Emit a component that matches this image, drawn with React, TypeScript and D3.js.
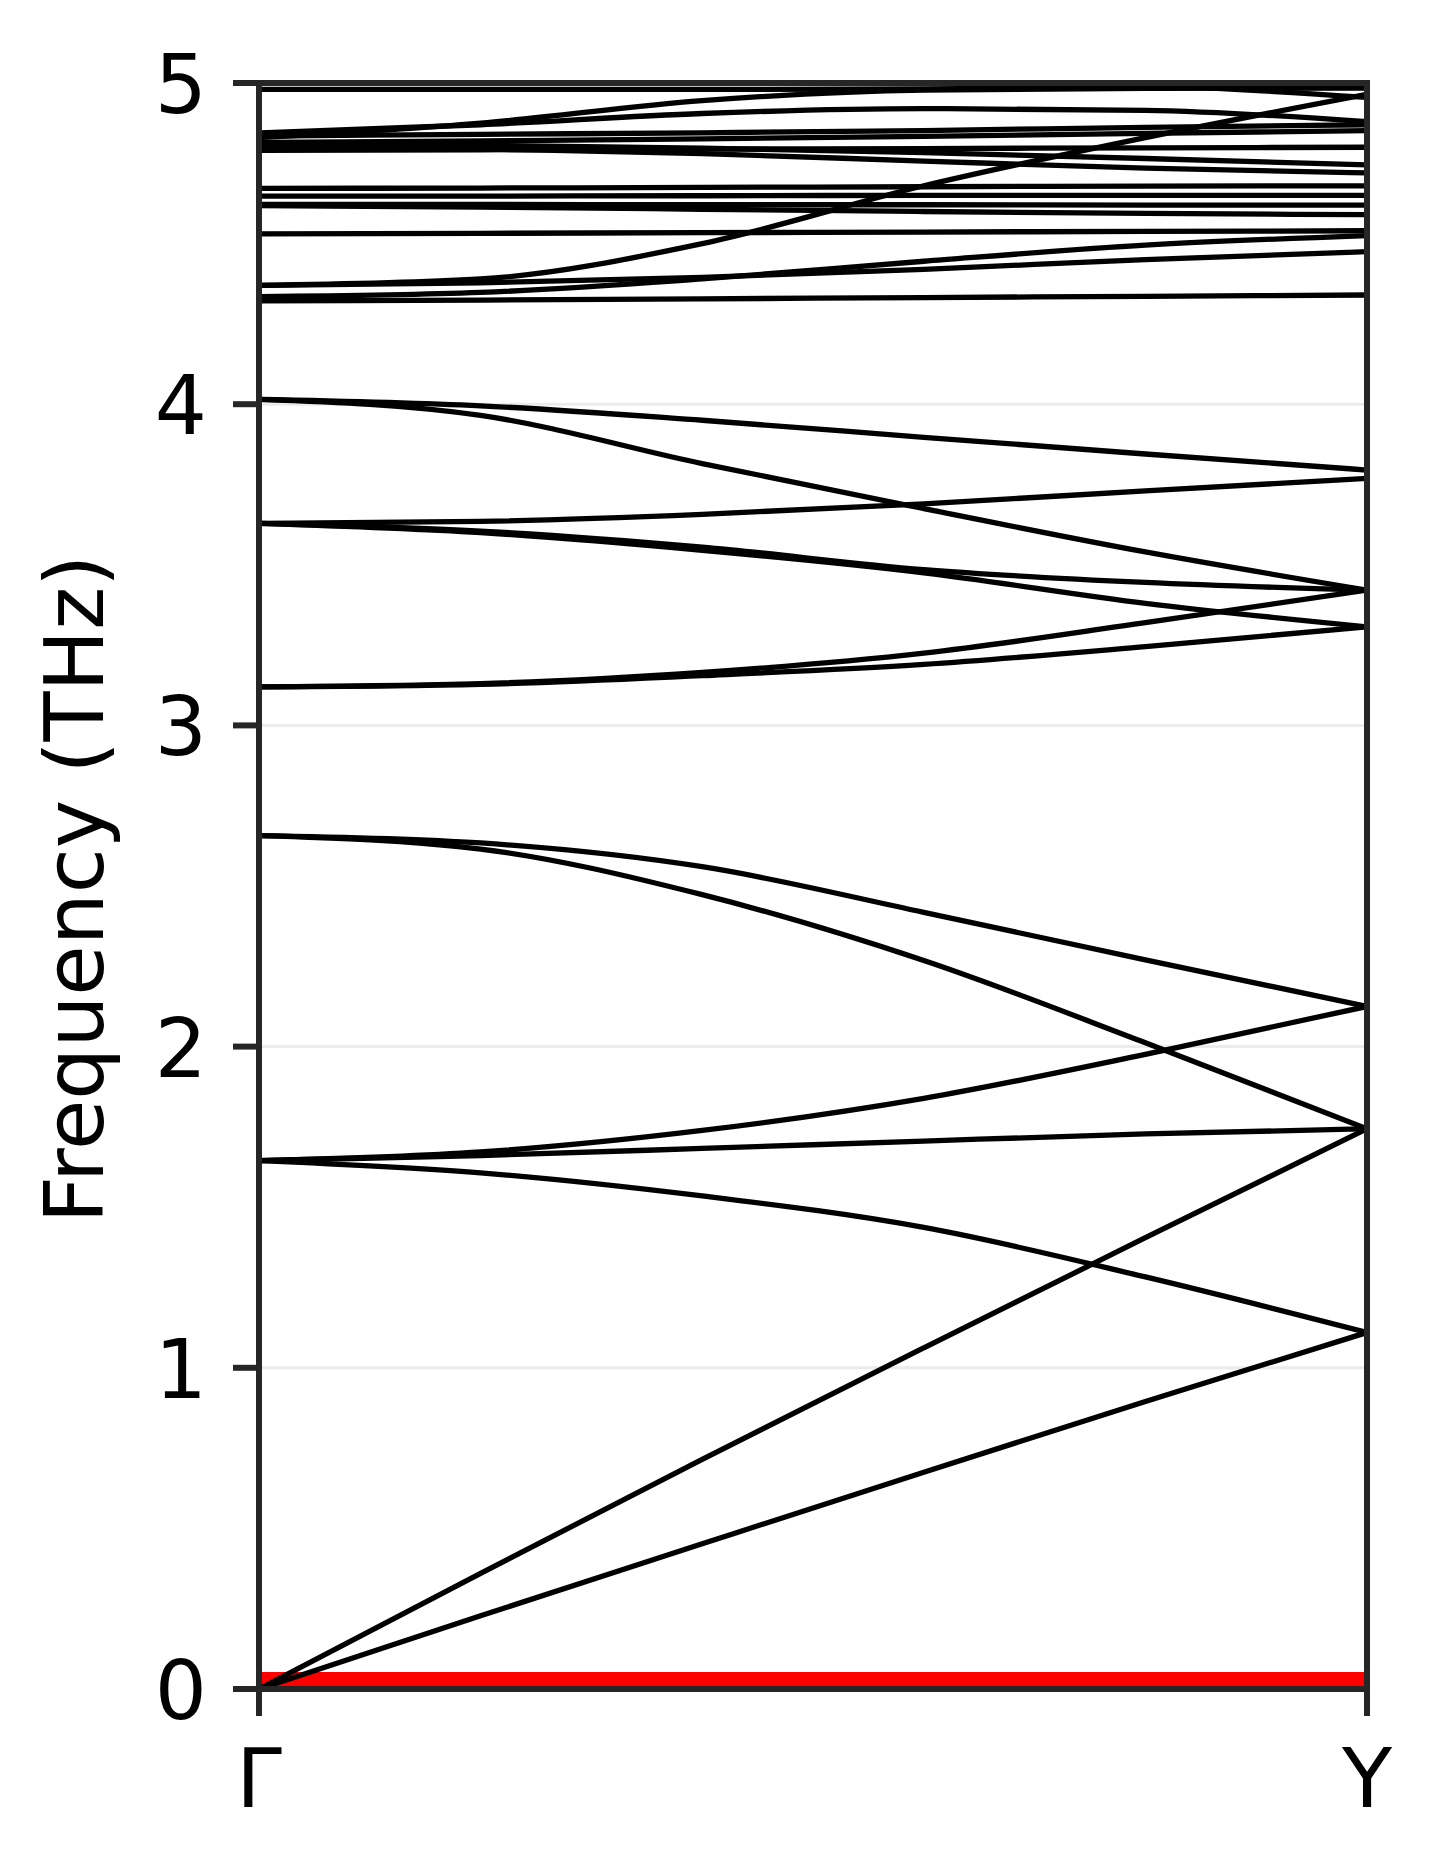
import React from 'react';
import * as d3 from 'd3';

// k-path sampling (fraction of the Γ→Y path)
const kPoints = [0, 0.2, 0.4, 0.6, 0.8, 1.0];
const kLabels = ['Γ', 'Y'];
const kLabelPos = [0, 1];
const yTicks = [0, 1, 2, 3, 4, 5];
const yGrid = [1, 2, 3, 4];

// low-frequency bands (THz)
const acoustic1 = [0, 0.228, 0.452, 0.675, 0.895, 1.11];
const acoustic2 = [0, 0.36, 0.715, 1.062, 1.405, 1.744];
const bandE = [1.645, 1.607, 1.535, 1.437, 1.283, 1.11];
const bandD = [1.645, 1.661, 1.683, 1.706, 1.728, 1.744];
const bandC = [1.645, 1.672, 1.739, 1.839, 1.976, 2.125];
const bandB = [2.657, 2.615, 2.473, 2.268, 2.012, 1.744];
const bandA = [2.657, 2.634, 2.56, 2.418, 2.27, 2.125];

// mid bands
const mid1 = [4.015, 3.995, 3.95, 3.897, 3.845, 3.795];
const mid2 = [4.015, 3.965, 3.815, 3.675, 3.54, 3.421];
const mid3 = [3.629, 3.635, 3.657, 3.69, 3.73, 3.769];
const mid4 = [3.629, 3.605, 3.555, 3.485, 3.445, 3.421];
const mid5 = [3.629, 3.6, 3.545, 3.475, 3.38, 3.307];
const mid6 = [3.12, 3.13, 3.165, 3.225, 3.32, 3.421];
const mid7 = [3.12, 3.128, 3.155, 3.19, 3.245, 3.307];

// high bands
const top1 = [4.98, 4.98, 4.98, 4.982, 4.985, 4.985];
const rise1 = [4.83, 4.875, 4.945, 4.978, 4.983, 4.985];
const fall1 = [5.06, 5.05, 5.035, 5.015, 4.995, 4.955];
const rise2 = [4.37, 4.39, 4.5, 4.68, 4.83, 4.965];
const bump1 = [4.845, 4.87, 4.905, 4.92, 4.915, 4.88];
const flatB1 = [4.835, 4.84, 4.845, 4.852, 4.862, 4.87];
const flatB2 = [4.815, 4.82, 4.826, 4.834, 4.843, 4.852];
const flatB3 = [4.79, 4.792, 4.794, 4.796, 4.798, 4.8];
const down1 = [4.8, 4.795, 4.78, 4.757, 4.735, 4.72];
const down2 = [4.81, 4.806, 4.797, 4.783, 4.765, 4.745];
const flat3 = [4.672, 4.673, 4.675, 4.677, 4.679, 4.68];
const flat4 = [4.648, 4.648, 4.649, 4.65, 4.65, 4.65];
const flat5 = [4.622, 4.622, 4.621, 4.621, 4.62, 4.62];
const flat6 = [4.618, 4.614, 4.607, 4.6, 4.594, 4.59];
const flat2 = [4.53, 4.532, 4.534, 4.536, 4.538, 4.54];
const rise3b = [4.335, 4.348, 4.39, 4.445, 4.495, 4.525];
const rise3a = [4.37, 4.378, 4.395, 4.42, 4.45, 4.475];
const flat1 = [4.322, 4.324, 4.328, 4.332, 4.336, 4.34];

// flat zero mode highlighted in red
const zeroBand = [0, 0, 0, 0, 0, 0];

const bands = [
  acoustic1, acoustic2, bandE, bandD, bandC, bandB, bandA,
  mid1, mid2, mid3, mid4, mid5, mid6, mid7,
  top1, rise1, fall1, rise2, bump1, flatB1, flatB2, flatB3, down1, down2,
  flat3, flat4, flat5, flat6, flat2, rise3b, rise3a, flat1,
];

export default function App() {
  const W = 1435;
  const H = 1861;
  const left = 259;
  const right = 1367;
  const top = 83;
  const bottom = 1689;
  const spine = '#262626';
  const font = 'DejaVu Sans';

  const x = d3.scaleLinear().domain([0, 1]).range([left, right]);
  const y = d3.scaleLinear().domain([0, 5]).range([bottom, top]);
  const line = d3
    .line<number>()
    .x((_d, i) => x(kPoints[i]))
    .y((d) => y(d))
    .curve(d3.curveMonotoneX);

  return (
    <svg
      width={W}
      height={H}
      viewBox={`0 0 ${W} ${H}`}
      style={{ position: 'absolute', left: 0, top: 0, background: '#fff' }}
    >
      <defs>
        <clipPath id="plotclip">
          <rect x={left} y={top} width={right - left} height={bottom - top} />
        </clipPath>
      </defs>
      <rect x={0} y={0} width={W} height={H} fill="#fff" />
      {yGrid.map((v) => (
        <line key={`g${v}`} x1={left} x2={right} y1={y(v)} y2={y(v)} stroke="#ebebeb" strokeWidth={3} />
      ))}
      <g clipPath="url(#plotclip)">
        <path d={line(zeroBand) || ''} fill="none" stroke="#ff0000" strokeWidth={34} />
        {bands.map((b, i) => (
          <path key={i} d={line(b) || ''} fill="none" stroke="#000" strokeWidth={5.3} />
        ))}
      </g>
      {/* spines */}
      <g stroke={spine} strokeWidth={6} strokeLinecap="square">
        <line x1={left} x2={right} y1={top} y2={top} />
        <line x1={left} x2={right} y1={bottom} y2={bottom} />
        <line x1={left} x2={left} y1={top} y2={bottom} />
        <line x1={right} x2={right} y1={top} y2={bottom} />
      </g>
      {/* y ticks */}
      {yTicks.map((v) => (
        <g key={`t${v}`}>
          <line x1={left - 26} x2={left} y1={y(v)} y2={y(v)} stroke={spine} strokeWidth={6} />
          <text
            x={207}
            y={y(v) + 30}
            textAnchor="end"
            fontFamily={font}
            fontSize={82}
            fill="#000"
          >
            {v}
          </text>
        </g>
      ))}
      {/* x ticks */}
      {kLabelPos.map((p, i) => (
        <g key={`k${i}`}>
          <line x1={x(p)} x2={x(p)} y1={bottom} y2={bottom + 27} stroke={spine} strokeWidth={6} />
          <text
            x={x(p)}
            y={1807}
            textAnchor="middle"
            fontFamily={font}
            fontSize={82}
            fill="#000"
          >
            {kLabels[i]}
          </text>
        </g>
      ))}
      <text
        transform={`translate(103, ${(top + bottom) / 2 + 3}) rotate(-90)`}
        textAnchor="middle"
        fontFamily={font}
        fontSize={82}
        fill="#000"
      >
        Frequency (THz)
      </text>
    </svg>
  );
}
